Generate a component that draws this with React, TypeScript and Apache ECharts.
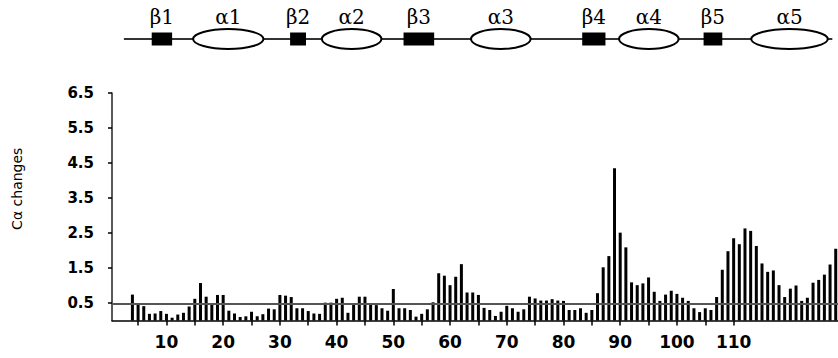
import React, { useEffect, useRef } from "react";
import * as echarts from "echarts";

// ---------- data ----------
const firstResidue = 4;
const caChanges = [
  0.74, 0.49, 0.41, 0.19, 0.2, 0.27, 0.19, 0.08, 0.17, 0.22, 0.4, 0.62, 1.07, 0.68, 0.46, 0.73, 0.73,
  0.28, 0.2, 0.1, 0.12, 0.25, 0.12, 0.18, 0.34, 0.32, 0.73, 0.71, 0.67, 0.35, 0.35, 0.27, 0.2, 0.19,
  0.51, 0.51, 0.62, 0.65, 0.22, 0.45, 0.68, 0.68, 0.46, 0.44, 0.35, 0.28, 0.9, 0.35, 0.35, 0.3, 0.11,
  0.19, 0.32, 0.52, 1.35, 1.28, 1.01, 1.25, 1.61, 0.8, 0.8, 0.73, 0.36, 0.3, 0.13, 0.25, 0.42, 0.35,
  0.25, 0.32, 0.68, 0.63, 0.57, 0.57, 0.61, 0.57, 0.56, 0.3, 0.3, 0.35, 0.22, 0.3, 0.78, 1.52, 1.84,
  4.35, 2.51, 2.09, 1.09, 1.01, 1.06, 1.23, 0.82, 0.56, 0.74, 0.85, 0.76, 0.65, 0.56, 0.35, 0.24, 0.35,
  0.3, 0.67, 1.45, 1.98, 2.35, 2.18, 2.63, 2.56, 2.13, 1.63, 1.39, 1.43, 1.01, 0.67, 0.91, 1.0, 0.56,
  0.65, 1.08, 1.16, 1.31, 1.6, 2.05,
];
const thresholdLine = [0.47];

const yTickValues = [0.5, 1.5, 2.5, 3.5, 4.5, 5.5, 6.5];
const xTickValues = [5, 10, 15, 20, 25, 30, 35, 40, 45, 50, 55, 60, 65, 70, 75, 80, 85, 90, 95, 100, 105, 110];
const xLabelValues = [10, 20, 30, 40, 50, 60, 70, 80, 90, 100, 110];
const yAxisTitle = "Cα changes";

// secondary structure (residue ranges)
const ssNames = ["β1", "α1", "β2", "α2", "β3", "α3", "β4", "α4", "β5", "α5"];
const ssKinds = ["strand", "helix", "strand", "helix", "strand", "helix", "strand", "helix", "strand", "helix"];
const ssStart = [7.4, 14.7, 31.8, 37.4, 51.8, 63.7, 83.3, 89.8, 104.7, 113.1];
const ssEnd = [11.0, 27.1, 34.6, 47.9, 57.2, 74.2, 87.4, 100.3, 108.0, 126.6];
const backbone = [2.5, 127.4];

const X_MIN = 0.4;
const X_MAX = 128.4;

const SANS = '"DejaVu Sans", "Liberation Sans", Arial, sans-serif';

export default function App() {
  const ref = useRef<HTMLDivElement>(null);

  useEffect(() => {
    if (!ref.current) return;
    const chart = echarts.init(ref.current, undefined, { renderer: "svg" });

    const barData = caChanges.map((v, i) => [firstResidue + i, v]);
    const ssData = ssStart.map((s, i) => [s, ssEnd[i], i]);

    const option: any = {
      animation: false,
      backgroundColor: "#fff",
      grid: [
        { left: 112, top: 93, width: 730, height: 227.5, containLabel: false },
        { left: 112, top: 29, width: 730, height: 20, containLabel: false },
      ],
      xAxis: [
        {
          type: "value",
          gridIndex: 0,
          min: X_MIN,
          max: X_MAX,
          axisLine: { show: true, onZero: false, lineStyle: { color: "#000", width: 1.5 } },
          axisTick: { show: true, customValues: xTickValues, length: 5, lineStyle: { color: "#000", width: 1.5 } },
          axisLabel: {
            show: true,
            customValues: xLabelValues,
            margin: 13,
            color: "#000",
            fontFamily: SANS,
            fontWeight: "bold",
            fontSize: 17,
            showMinLabel: true,
            showMaxLabel: true,
            hideOverlap: false,
          },
          splitLine: { show: false },
        },
        { type: "value", gridIndex: 1, min: X_MIN, max: X_MAX, show: false },
      ],
      yAxis: [
        {
          type: "value",
          gridIndex: 0,
          min: 0,
          max: 6.5,
          name: yAxisTitle,
          nameLocation: "middle",
          nameRotate: 90,
          nameGap: 88,
          nameTextStyle: { color: "#000", fontFamily: SANS, fontSize: 14, padding: [0, 0, 0, 36] },
          axisLine: { show: true, lineStyle: { color: "#222", width: 1.5 } },
          axisTick: { show: true, customValues: yTickValues, length: 4, lineStyle: { color: "#000", width: 1.5 } },
          axisLabel: {
            show: true,
            customValues: yTickValues,
            margin: 18,
            color: "#000",
            fontFamily: SANS,
            fontWeight: "bold",
            fontSize: 15,
            formatter: (v: number) => v.toFixed(1),
          },
          splitLine: { show: false },
        },
        { type: "value", gridIndex: 1, min: 0, max: 1, show: false },
      ],
      series: [
        {
          type: "bar",
          xAxisIndex: 0,
          yAxisIndex: 0,
          data: barData,
          barWidth: 3,
          itemStyle: { color: "#000" },
          markLine: {
            silent: true,
            symbol: "none",
            label: { show: false },
            lineStyle: { color: "#555", width: 2, type: "solid" },
            data: thresholdLine.map((v) => ({ yAxis: v })),
          },
          z: 2,
        },
        {
          type: "line",
          xAxisIndex: 1,
          yAxisIndex: 1,
          data: backbone.map((x) => [x, 0.5]),
          symbol: "none",
          lineStyle: { color: "#333", width: 2 },
          z: 1,
        },
        {
          type: "custom",
          xAxisIndex: 1,
          yAxisIndex: 1,
          data: ssData,
          z: 3,
          renderItem: (params: any, api: any) => {
            const i = api.value(2);
            const p1 = api.coord([api.value(0), 0.5]);
            const p2 = api.coord([api.value(1), 0.5]);
            const cx = (p1[0] + p2[0]) / 2;
            const cy = p1[1];
            const w = p2[0] - p1[0];
            const shape =
              ssKinds[i] === "strand"
                ? { type: "rect", shape: { x: p1[0], y: cy - 6.5, width: w, height: 13 }, style: { fill: "#000" } }
                : {
                    type: "ellipse",
                    shape: { cx, cy, rx: w / 2, ry: 10 },
                    style: { fill: "#fff", stroke: "#000", lineWidth: 2 },
                  };
            return {
              type: "group",
              children: [
                shape,
                {
                  type: "text",
                  x: cx,
                  y: cy - 22,
                  style: {
                    text: ssNames[i],
                    fontFamily: '"DejaVu Serif", "Liberation Serif", serif',
                    fontSize: 20,
                    fill: "#000",
                    align: "center",
                    verticalAlign: "middle",
                  },
                },
              ],
            };
          },
        },
      ],
    };

    chart.setOption(option);
    return () => chart.dispose();
  }, []);

  return (
    <div ref={ref} style={{ position: "fixed", left: 0, top: 0, width: 838, height: 358, background: "#fff" }} />
  );
}
